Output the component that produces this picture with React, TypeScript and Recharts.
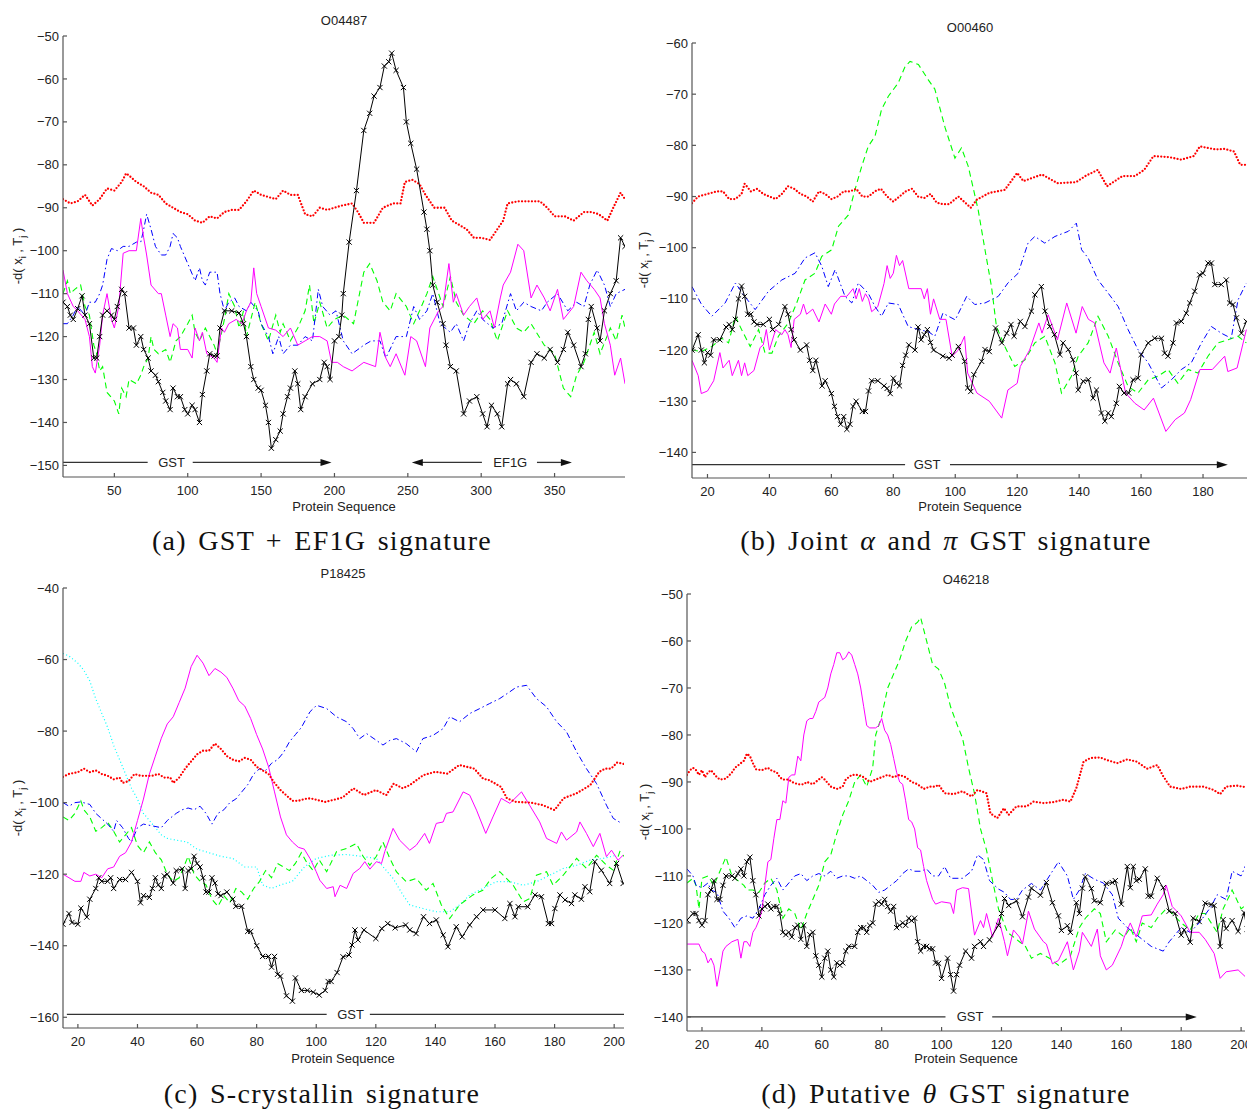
import React from "react";
import { LineChart, Line, XAxis, YAxis, ReferenceLine, ReferenceDot } from "recharts";

type Pts = [number, number][];

// ---- (a) O04487 ----
const aRed: Pts = [[15,-88],[20,-89],[25,-88.5],[30,-87],[35,-89.5],[40,-88],[45,-85.5],[50,-86],[55,-84],[58,-82],[60,-82.5],[65,-84],[70,-85],[75,-86.5],[80,-87],[85,-89],[90,-90],[95,-91],[100,-91.5],[105,-93],[110,-93.5],[115,-92],[120,-92.5],[125,-91],[130,-90.5],[135,-90.5],[140,-88.5],[145,-86],[150,-87],[155,-87.5],[160,-88],[165,-86],[170,-87],[175,-87],[180,-91.5],[185,-92],[190,-90],[195,-90.5],[200,-90],[205,-89.5],[212,-89],[216,-91],[220,-93.5],[227,-93.5],[233,-90],[240,-89],[245,-89],[248,-84],[253,-83.5],[258,-84.5],[262,-87],[268,-90],[275,-90],[280,-93],[285,-94],[290,-95],[295,-97],[300,-97],[306,-97.5],[311,-95],[315,-93],[318,-89],[325,-88.5],[333,-88.5],[340,-88.5],[345,-90],[350,-92],[357,-92],[363,-93],[370,-91],[375,-91],[380,-91.5],[386,-93],[390,-90],[395,-86.5],[398,-88]];
const aBlack: Pts = [[15,-112],[18,-113],[20,-115],[22,-116],[25,-113.5],[28,-110.5],[30,-115],[33,-117],[36,-125],[38,-125],[40,-120],[42,-115],[45,-114],[48,-115],[50,-116],[52,-113],[55,-109],[57,-110],[60,-118],[63,-118],[65,-122],[68,-120],[70,-123],[73,-125],[75,-128],[78,-129],[80,-130.5],[83,-133],[85,-135],[88,-137],[90,-132],[93,-134],[95,-134],[98,-137],[100,-138],[103,-136],[105,-137],[108,-140],[110,-133.5],[113,-128],[115,-124],[118,-124.5],[120,-124.5],[122,-118],[125,-114],[130,-114],[135,-114.5],[138,-117],[140,-120],[143,-127],[145,-130],[148,-132],[150,-132.5],[153,-136],[155,-140],[157,-146],[160,-144],[163,-142],[165,-138],[168,-134],[170,-132],[173,-128],[175,-131],[177,-137],[180,-134],[185,-131],[190,-130],[193,-126],[195,-127],[197,-130],[200,-121],[203,-120],[205,-115],[206,-110],[210,-98],[215,-86],[220,-72],[224,-68],[227,-64],[231,-62],[234,-57],[237,-56],[239,-54],[242,-58],[247,-62],[249,-70],[252,-75],[256,-81],[261,-91],[263,-95],[265,-100],[267,-108],[270,-112],[274,-117],[276,-122],[279,-127],[283,-128],[288,-138],[292,-135],[297,-134],[301,-138],[304,-141],[307,-136],[311,-138],[314,-141],[318,-131],[320,-130],[324,-131],[329,-134],[334,-126],[338,-124],[343,-125],[347,-123],[352,-126],[356,-123],[359,-119],[363,-122],[368,-127],[371,-124],[373,-116],[375,-113],[379,-118],[381,-121],[384,-114],[388,-110],[392,-107],[395,-97],[398,-99]];
const aMagenta: Pts = [[15,-104.5],[18,-110],[22,-113],[25,-114],[30,-116],[33,-120],[35,-127],[37,-128.5],[40,-122],[42,-115],[45,-110],[48,-116],[50,-118],[53,-113],[56,-100.6],[60,-100],[65,-100],[68,-92.5],[70,-97],[72,-101],[75,-108],[80,-110],[82,-110],[85,-115],[88,-120],[90,-117],[93,-118],[95,-123],[100,-123],[103,-125],[105,-118],[108,-121],[110,-119],[113,-124],[118,-125],[120,-126],[123,-118],[125,-119],[128,-117],[133,-116],[137,-117],[140,-114],[143,-112],[145,-104],[147,-110],[150,-113],[155,-118],[160,-118.5],[165,-120],[170,-118],[175,-122],[180,-121],[185,-120],[190,-120],[195,-121],[198,-126],[202,-126],[206,-127],[212,-128],[220,-126],[228,-127],[231,-119],[235,-125],[238,-127],[242,-124],[248,-129],[252,-120],[256,-121],[262,-127],[265,-118],[271,-114],[274,-113],[278,-103],[281,-112],[283,-110],[288,-115],[292,-113],[297,-111],[301,-116],[306,-114],[309,-118],[313,-111],[315,-108],[320,-105],[325,-98.5],[329,-100],[334,-111],[338,-108],[343,-111],[347,-114],[352,-109],[356,-116],[363,-113],[368,-105],[372,-107],[377,-109],[381,-111],[384,-117],[388,-122],[391,-129],[395,-125],[398,-131]];
const aBlue: Pts = [[15,-117],[18,-117],[22,-115],[25,-113],[30,-115],[33,-112],[37,-112],[40,-110],[42,-108],[45,-102],[48,-99.5],[52,-100],[56,-99],[60,-99],[65,-98],[68,-98],[70,-95],[72,-91.5],[75,-95],[78,-99],[82,-101],[85,-101],[88,-99],[90,-96],[93,-97],[95,-99],[100,-103],[105,-107],[108,-104],[110,-107],[112,-108],[115,-105],[120,-105],[122,-110],[125,-114],[128,-112],[132,-111],[135,-113],[140,-114],[143,-112],[148,-114],[150,-117],[155,-120],[158,-124],[162,-120],[165,-124],[170,-122],[175,-122],[180,-120],[185,-121],[189,-109],[192,-113],[197,-115],[201,-114],[206,-121],[212,-124],[220,-122],[225,-121],[231,-121],[235,-125],[242,-120],[249,-120],[254,-113],[258,-116],[263,-114],[267,-110],[272,-117],[279,-119],[283,-117],[288,-121],[292,-117],[297,-114],[301,-116],[308,-118],[314,-117],[320,-110],[324,-114],[329,-112],[334,-113],[341,-114],[345,-112],[352,-110],[359,-114],[365,-112],[370,-113],[374,-108],[379,-104.5],[384,-108],[388,-113],[392,-110],[398,-109]];
const aGreen: Pts = [[15,-110],[18,-107],[20,-110],[23,-109],[27,-108],[30,-113],[33,-115],[36,-122],[38,-124],[40,-128],[42,-127],[45,-133],[50,-135],[53,-138],[55,-132],[58,-134],[60,-130],[65,-131],[68,-129],[70,-127],[73,-125],[75,-120],[77,-123],[80,-124],[85,-123],[88,-126],[92,-121],[95,-120],[100,-117],[103,-115],[105,-119],[108,-121],[112,-118],[115,-120],[118,-122],[120,-124],[125,-116],[128,-110],[132,-113],[135,-118],[138,-114],[140,-120],[143,-116],[146,-112],[150,-117],[155,-121],[160,-115],[163,-119],[165,-117],[170,-121],[175,-118],[180,-114],[183,-108],[186,-117],[190,-112],[195,-118],[200,-116],[206,-115],[213,-117],[220,-105],[224,-103],[229,-107],[233,-112],[238,-114],[242,-110],[249,-113],[254,-117],[258,-114],[263,-110],[267,-106],[274,-113],[279,-106],[283,-112],[288,-115],[295,-117],[301,-114],[306,-116],[311,-121],[318,-114],[324,-118],[329,-119],[334,-117],[343,-122],[350,-124],[356,-132],[361,-134],[365,-129],[370,-126],[377,-119],[381,-124],[388,-118],[392,-121],[396,-115],[398,-118]];

// ---- (b) O00460 ----
const bRed: Pts = [[15,-91.3],[17,-90],[20,-89.5],[23,-89],[25,-89],[27,-90.5],[29,-90.5],[31,-89.5],[32,-87.5],[34,-89],[36,-88.5],[38,-89.5],[40,-90],[42,-90.5],[44,-89.5],[46,-88],[48,-88.5],[50,-89.5],[52,-90],[54,-91],[56,-89],[58,-89.5],[60,-90.5],[62,-90],[64,-89],[66,-89],[68,-88.5],[70,-90],[72,-90],[74,-89],[76,-88.5],[78,-90],[80,-91],[82,-90],[84,-89],[86,-88.5],[88,-90],[90,-90.3],[92,-89.5],[94,-91.2],[96,-91.5],[98,-91.5],[101,-90],[105,-92.2],[107,-90.6],[111,-89.3],[116,-88.7],[120,-85.4],[122,-87],[128,-85.7],[133,-87.4],[139,-87.2],[142,-86],[146,-84.8],[149,-88],[154,-86],[158,-86],[161,-84.8],[164,-82.1],[169,-82.3],[173,-82.8],[177,-82.1],[179,-80.2],[184,-80.8],[187,-80.7],[190,-81.2],[192,-83.8],[194,-83.8]];
const bBlack: Pts = [[15,-120],[17,-117],[18,-120],[19,-122.5],[20,-120.5],[21,-121],[22,-118],[24,-118],[26,-115.5],[27,-115],[28,-116],[29,-114],[30,-110],[31,-107.5],[32,-109.5],[33,-113],[34,-113],[35,-114.5],[36,-115],[38,-115],[40,-114],[41,-116],[43,-115],[45,-111.5],[46,-113],[47,-116],[48,-118],[50,-120],[52,-119],[53,-122],[54,-124],[55,-122],[57,-127],[58,-126],[60,-128.5],[61,-131],[62,-133],[63,-134.5],[64,-133],[65,-135.5],[66,-134.5],[67,-131],[68,-130],[70,-132],[71,-132],[72,-128],[73,-126],[75,-126],[77,-127],[78,-127.5],[79,-128.5],[80,-125.5],[81,-126.5],[82,-127],[83,-123],[84,-121],[85,-119],[87,-120],[88,-115.5],[89,-118],[90,-117],[91,-116],[92,-118.5],[93,-120],[96,-121.2],[98,-121.6],[99,-121],[101,-119.3],[103,-122.2],[104,-127.4],[105,-128.1],[106,-124.8],[108.5,-122.2],[109.6,-119.9],[111,-120.3],[113,-115.7],[115,-118.6],[116.6,-116.7],[118,-115],[119,-117.3],[121,-114.4],[122.5,-115.4],[124.6,-112.4],[125.7,-109.2],[127.8,-107.6],[129,-112.4],[130.5,-115.4],[132,-117],[133.8,-120.9],[134.8,-118.6],[136.5,-119.9],[138,-121.9],[139,-124.5],[139.7,-127.8],[141.3,-126.1],[143,-125.8],[144.5,-129.4],[145.6,-127.8],[147.2,-132.3],[148.3,-133.9],[149.4,-132.3],[150.4,-133],[152,-130.4],[153,-127.1],[154.5,-128.4],[156,-128.4],[157.4,-125.8],[159,-125.5],[160,-120.9],[162.3,-118.6],[164.4,-117.7],[166.6,-117.7],[167.6,-120.6],[168.7,-121.2],[170.3,-118.6],[171.4,-114.7],[173,-114.4],[174.6,-112.8],[175.7,-110.8],[177.3,-108.5],[178.9,-105.3],[180,-105],[181.6,-103],[182.7,-103],[183.8,-107.2],[185.9,-107.2],[187.5,-106.3],[188.6,-110.8],[189.7,-111.1],[190.8,-113.7],[192.4,-116.7],[194,-114.4]];
const bMagenta: Pts = [[15,-122],[17,-125],[18,-128.5],[20,-128],[22,-126],[24,-120.5],[25,-123.5],[27,-122],[28,-125],[30,-122],[31,-125],[32,-122.5],[33,-125],[35,-124],[37,-119.5],[38,-119],[39,-116],[40,-120],[42,-116],[44,-117],[45,-116],[46,-117],[47,-119.5],[48,-114],[50,-113],[51,-111],[52,-113],[54,-112],[56,-114.5],[58,-111],[60,-113],[61,-111],[63,-109.5],[65,-109.5],[67,-108],[68,-110],[69,-108],[70,-110.5],[71,-109],[72,-110],[73,-112.5],[75,-111.5],[77,-107],[78,-103.5],[79,-106],[80,-105],[81,-101.5],[82,-103.5],[83,-102.5],[85,-108],[87,-108],[89,-108],[90,-110],[91,-108],[92,-113],[93,-110],[95,-114],[97,-114],[99,-121.2],[101,-120],[103,-117.3],[104,-124.5],[107,-128.4],[111,-130],[115,-133.3],[117,-127.8],[120,-126.5],[121,-123.2],[124,-120],[127,-114.7],[128,-116.7],[130,-113.1],[133,-118],[136,-110.8],[139,-116.7],[141,-111.5],[143,-114],[145,-114.7],[148,-122.5],[150,-124.5],[152,-119.6],[155,-128.4],[158,-130.4],[161,-131.7],[164,-129.4],[168,-135.9],[171,-133.6],[174,-132.3],[176,-129.7],[179,-123.8],[183,-123.8],[187,-121.2],[188,-124.2],[191,-123.5],[194,-116]];
const bBlue: Pts = [[15,-107.6],[18,-111],[21.4,-113.4],[25.7,-110.8],[29,-106.9],[32,-109.5],[35.4,-112.1],[39.7,-108.5],[44,-106.3],[48.3,-105],[51.5,-102],[54.7,-101],[56.9,-103.6],[59,-107.6],[61.2,-104.3],[64.4,-109.5],[66.6,-110.8],[68.7,-106.9],[71.9,-108.9],[74.1,-111.5],[76.2,-113.4],[78.4,-110.8],[81.6,-111.1],[84.8,-115.4],[88.1,-116],[91.3,-116.4],[93.4,-117.3],[96,-112.8],[100,-114.1],[103.7,-109.5],[106.3,-111.1],[109.6,-110.8],[113.9,-109.5],[117,-106.9],[120.3,-105],[123.5,-99.1],[125.7,-97.8],[128.9,-99.1],[132.2,-97.8],[136.5,-96.8],[139.1,-95.2],[140.8,-100.4],[142.9,-102],[146.1,-106.3],[149.4,-108.9],[152.6,-111.5],[155.8,-116],[159,-119.9],[162.3,-122.5],[166.6,-127.4],[169.8,-125.8],[173,-123.8],[176.2,-122.5],[179.5,-118.6],[182.7,-115.4],[185.9,-116.7],[189.1,-117.7],[191.3,-110.2],[194,-106.9]];
const bGreen: Pts = [[15,-120],[18,-120.3],[21.4,-119.3],[24.6,-117.7],[26.8,-118.6],[29,-113.4],[31,-116],[33.8,-119.3],[36.5,-116],[38.6,-120.6],[40.8,-120.6],[42.9,-117.3],[46.1,-114.7],[48.8,-110.8],[51.5,-106.3],[54.7,-105],[56.9,-101.7],[60.1,-100.4],[62.3,-95.8],[65.5,-93.6],[67.6,-88.7],[69.8,-84.1],[71.9,-80.2],[74.1,-78.2],[76.2,-73],[78.4,-70.4],[81.6,-67.8],[83.8,-64.6],[85.4,-63.6],[88.1,-64.2],[91.3,-67.2],[93.4,-69],[96.7,-76.5],[99.9,-82.5],[102,-80.5],[104.2,-84.1],[107.4,-92.6],[109.6,-100.4],[111.7,-107.6],[113.3,-115.4],[116,-119.3],[119.2,-123.2],[122.5,-121.9],[125.7,-118.6],[128.9,-117.3],[132.2,-122.5],[134.3,-128.4],[137.5,-125.1],[139.7,-121.2],[142.9,-118.6],[146.1,-113.4],[149.4,-117.3],[152.6,-122.5],[155.8,-127.1],[159,-128.4],[162.3,-125.8],[165.5,-125.1],[168.7,-123.8],[171.9,-126.5],[175.2,-123.8],[178.4,-124.5],[181.6,-121.2],[184.8,-118.6],[188.1,-118],[191.3,-117.3],[194,-118.6]];

// ---- (c) P18425 ----
const cRed: Pts = [[15,-92.8],[17,-92],[20,-91.5],[22,-90.5],[24,-91.5],[26,-91],[28,-92],[30,-92.5],[32,-93.5],[34,-93],[35,-94.5],[37,-94],[39,-92],[41,-92.5],[45,-92.5],[47,-92],[49,-93],[51,-93],[52,-94.5],[54,-93],[56,-90.5],[58,-88.5],[60,-86.5],[62,-85.5],[64,-85.5],[66,-83.5],[68,-85],[70,-87],[72,-88],[74,-88.5],[76,-87.5],[78,-88],[80,-90],[82,-91],[84,-92],[86,-94.5],[88,-96.5],[90,-98],[92,-99.5],[94,-99.5],[96,-99],[98,-98.8],[103,-99.8],[107,-99],[109,-98.5],[112.5,-96],[116,-97.9],[120,-96.5],[123.5,-97.9],[126,-94.7],[129,-96],[131.4,-95.1],[136,-92.3],[140,-91.4],[144,-91.9],[148,-89.5],[153,-90.5],[156,-93.3],[158,-93.7],[162,-95.6],[164,-98.8],[167,-99.8],[172,-100],[176,-100.7],[180,-102.1],[183,-98.8],[187.4,-97.4],[192,-95.1],[195,-91.4],[197,-90.5],[199,-90.5],[201,-88.8],[203.3,-89.2]];
const cBlack: Pts = [[15,-134],[17,-131],[18,-133.5],[20,-134],[21,-129.5],[23,-132],[24,-127],[26,-124],[27,-121],[28,-122],[30,-122],[31,-121],[32,-124],[34,-121.5],[36,-121.5],[38,-119.5],[40,-122],[41,-128],[42,-126],[44,-126.5],[45,-124],[46,-121],[47,-123],[48,-124],[49,-120.5],[50,-120],[52,-122.5],[53,-119],[55,-118.5],[56,-124],[57,-119],[58,-118.5],[59,-115],[60,-117],[61,-118],[62,-121],[63,-125],[64,-125],[65,-121],[66,-122.5],[67,-125.5],[68,-126],[70,-125],[72,-127],[73,-129],[75,-129],[77,-136],[78,-136],[80,-140],[82,-143],[84,-143],[85,-146],[86,-143],[87,-148],[88,-148.5],[90,-154],[92,-155.5],[93,-149],[95,-152.5],[97,-152.5],[99,-153],[101,-153.8],[103,-152.5],[104,-150],[105,-150],[107,-147.5],[109,-143.1],[111,-142.6],[112,-139.8],[113,-135.6],[114,-138.4],[116,-135.6],[120,-138],[122,-135.2],[124,-133.8],[126.5,-135],[130,-134.2],[131.4,-135.6],[133.5,-136.6],[136,-131.9],[138,-133.8],[140.3,-132.8],[142.6,-137],[144.2,-140.3],[147,-134.7],[149,-137.5],[151.5,-134.2],[153.8,-131.9],[156,-130],[160,-130],[163.3,-132.4],[165,-128.2],[166.7,-131.9],[167.8,-129.1],[171,-129.1],[173.4,-125.8],[175.6,-126.3],[177.9,-133.8],[179,-133.8],[180.1,-129.6],[181.8,-125.8],[183.5,-127.2],[185.7,-128.2],[186.8,-125.8],[189,-127],[190.2,-123.5],[191.8,-124.9],[193.5,-116.5],[195.7,-118.9],[198.5,-122.6],[200.8,-117],[203,-122.6]];
const cMagenta: Pts = [[15,-120],[17,-121],[19,-122],[21,-122],[22,-119.5],[24,-120.5],[26,-120],[28,-121],[30,-118.5],[32,-118],[34,-115],[36,-114],[38,-111],[40,-105],[42,-99],[44,-92],[46,-87],[48,-82],[50,-78],[52,-76],[54,-72],[56,-68],[58,-62],[60,-58.8],[62,-61],[64,-64.5],[66,-62.5],[68,-63.5],[70,-65],[72,-68],[74,-71.5],[76,-73],[78,-76.5],[80,-81],[82,-85],[84,-90],[86,-97],[88,-104],[90,-109],[92,-111],[94,-112.5],[96,-113],[97.9,-115.6],[100,-119.3],[101.2,-121.7],[103.5,-124],[105.7,-123.5],[106.3,-126.3],[108,-123.1],[110.2,-124],[112.4,-119.8],[114.6,-118.4],[116.3,-116.5],[118,-118.6],[120.2,-116.5],[121.9,-117],[123,-113.7],[125.8,-107.2],[128,-110.5],[131.4,-113.3],[133.6,-111.9],[136.4,-108.6],[138,-111.4],[140.3,-105.8],[142.6,-105.4],[143.7,-103],[145.9,-102.6],[149.3,-97],[151.5,-97.9],[153.8,-102.1],[156.9,-108.6],[159.3,-104],[162.1,-98.8],[165,-100.2],[168.9,-97],[171.6,-100.7],[175,-105.4],[177.3,-110],[180.7,-111.4],[182.3,-108.2],[184,-110.5],[187.4,-108.2],[188.5,-105.4],[190.7,-108.6],[193,-112.3],[195.2,-108.6],[197.4,-115.1],[199.1,-113.3],[201.3,-116.1],[203,-114.7]];
const cBlue: Pts = [[15,-100],[17,-101],[19,-100],[21,-99.8],[24,-100.5],[26,-103],[28,-104.5],[30,-106],[32,-108],[33,-105],[35,-107],[37,-110],[38,-111],[40,-107],[42,-106],[45,-106.5],[48,-107],[50,-105],[53,-103],[55,-102],[57,-101.5],[59,-102],[61,-101],[63,-103],[65,-106],[67,-103],[69,-102],[71,-100],[73,-99],[75,-97],[77,-95],[79,-92],[81,-90.5],[83,-91],[85,-89],[87,-88],[89,-86],[91,-83],[93,-81],[95,-79],[97.9,-74.6],[100.1,-72.8],[103.5,-73.7],[106.8,-76],[110.2,-77.4],[112.4,-79.3],[114.6,-82.1],[116.9,-80.7],[120.2,-82.6],[122.4,-83.9],[124.7,-82.6],[126.9,-82.1],[130.2,-83.5],[133.6,-85.8],[135.8,-82.1],[139.2,-81.2],[142.6,-79.3],[144.8,-76],[148.1,-77.4],[151.5,-75.1],[154.9,-73.7],[158.2,-72.3],[161.6,-70.9],[165,-69],[167.2,-67.7],[170.6,-67.2],[173.9,-70.9],[177.3,-73.2],[180.7,-77.4],[184,-80.2],[187.4,-85.8],[190.7,-90.5],[194.1,-94.7],[197.4,-100.7],[199.7,-104.4],[202.5,-105.8]];
const cGreen: Pts = [[15,-104],[17,-105],[19,-103],[21,-99.5],[22,-102],[24,-104],[26,-108],[28,-107],[30,-105.5],[32,-108],[34,-111],[36,-109],[38,-107],[40,-112],[42,-114],[44,-111],[46,-114],[48,-116],[50,-120],[52,-122],[54,-121],[56,-117],[57,-115],[59,-120],[61,-122],[63,-123],[65,-127],[67,-129],[69,-126],[71,-128],[73,-124],[75,-125],[77,-127],[79,-124],[81,-122],[83,-119],[85,-121],[87,-117],[89,-118],[91,-119],[93,-117],[95,-114],[97,-117],[99,-119],[101,-116],[103.5,-119.3],[106.8,-113.7],[110.2,-112.8],[113.5,-111.4],[115.7,-115],[118,-117.5],[120.2,-115],[122.4,-111],[124.7,-115.6],[126.9,-119.3],[130.2,-122.1],[133.6,-121.2],[136.9,-124.5],[139.2,-122.6],[142,-128.6],[144.8,-132.4],[148.1,-128.6],[152.6,-125.8],[155.9,-124.5],[158.7,-121.2],[161.6,-119.3],[166.1,-123.1],[169.5,-127.7],[171.7,-126.8],[173.9,-120.3],[177.3,-119.3],[179.5,-123.1],[182.9,-120.3],[187.4,-115.6],[190.7,-118.4],[194.1,-114.7],[197.4,-117.5],[199.7,-118.9],[201.9,-113.7],[203.3,-115]];
const cCyan: Pts = [[15,-58.3],[17,-59],[20,-61],[22,-63],[24,-66],[26,-71],[28,-75],[30,-79],[32,-84],[34,-88],[36,-92],[38,-96],[40,-99],[42,-103],[44,-105],[46,-107],[48,-109],[50,-110],[53,-110.5],[56.6,-111],[60,-113],[64,-114],[68,-115],[72,-115.6],[76,-118],[80,-118],[82,-123],[85,-124],[88,-123],[92,-122],[96,-118],[100,-115.6],[105,-114.7],[110,-114.5],[115,-115],[120.2,-115.6],[122.4,-117.9],[125.8,-121.2],[129.1,-125.8],[131.4,-128.6],[135.8,-129.6],[140.3,-130.5],[144.8,-130.5],[148.1,-128.6],[151.5,-125.8],[155.9,-124],[160.4,-122.1],[165,-122.1],[169.5,-123.1],[173.9,-122.1],[178.4,-120.3],[182.9,-118.4],[187.4,-117.5],[191.8,-116.1],[196.3,-115.6],[200.8,-114.7]];

// ---- (d) O46218 ----
const dRed: Pts = [[15,-88.5],[16,-87.5],[17,-87],[18,-87.5],[19,-88.5],[20,-87.5],[21,-89],[22,-88],[23,-87.5],[25,-89],[26,-89.5],[28,-89.3],[30,-88],[31,-87],[32,-86.5],[34,-85.5],[35,-84],[36,-84.5],[37,-86],[38,-87.3],[40,-87.5],[42,-87],[43,-87.5],[45,-88],[46,-89],[47,-89.5],[49,-89.5],[50,-90],[52,-90.5],[54,-90.5],[55,-90],[57,-90.5],[59,-89.5],[60,-89],[61,-89.5],[63,-91],[65,-91.5],[67,-91],[68,-89.5],[70,-88.5],[72,-88.5],[74,-89],[76,-90],[78,-89.5],[80,-89],[82,-88.5],[84,-89],[86,-88.5],[88,-89],[90,-90],[92,-90.5],[94,-91.5],[96,-91],[98,-91],[99,-90.6],[101,-92.4],[104,-92.6],[107,-92],[110,-93.1],[112,-91.7],[115,-92.4],[116.3,-96.7],[118.6,-97.7],[120.8,-95.6],[122.4,-97],[125,-95.2],[128.4,-95.2],[130.7,-94.2],[134,-94.5],[137.3,-94.3],[140.7,-93.8],[143,-94.2],[145,-91.3],[147.4,-85.7],[149.7,-84.9],[153,-84.8],[155,-85.3],[158.6,-86],[162,-85.2],[165.2,-85.7],[168.6,-87.2],[172,-86.4],[174,-88.8],[176.3,-91],[180,-91.5],[183,-91],[187.4,-91],[190.8,-91.7],[193,-92.6],[195,-91],[198.6,-90.8],[202.4,-91.2]];
const dBlack: Pts = [[15,-119.4],[17,-118],[18,-118],[19,-119.5],[20,-120.5],[21,-119.5],[22,-114],[23,-113],[24,-111],[25,-115],[26,-115],[27,-112],[28,-110],[30,-110],[31,-110.5],[32,-109.5],[33,-108.5],[34,-110],[35,-107],[36,-106],[37,-111],[38,-114],[39,-118.5],[40,-117],[41,-116.5],[42,-116],[43,-117],[44,-116.5],[45,-116.5],[46,-118],[47,-122],[48,-122.5],[49,-122],[50,-123],[51,-121],[52,-120.5],[53,-123.5],[54,-120.5],[55,-125],[56,-122.5],[57,-122],[58,-127],[59,-129],[60,-131.5],[61,-127.5],[62,-126],[63,-130],[64,-131.5],[65,-128.5],[66,-129],[67,-128.5],[68,-126],[69,-125],[71,-125],[72,-122],[73,-121],[74,-121],[75,-122],[76,-120.5],[77,-120],[78,-116],[79,-115.5],[80,-116],[81,-115],[82,-116.5],[83,-117.5],[84,-116.5],[85,-121],[86,-120.5],[87,-120],[88,-120.5],[89,-119],[90,-119.5],[91,-119],[92,-124],[93,-126],[94,-125],[95,-125],[96,-125.5],[97,-125.5],[98,-128.5],[99,-128.6],[100,-131.8],[102,-127.5],[103,-131],[104,-134.5],[105,-131],[106,-129],[108,-126],[110,-127.5],[111,-125],[113,-124],[114,-125],[116,-123.6],[119,-120.5],[120,-118],[121,-114.8],[122.4,-116.3],[125,-115.3],[127,-118.7],[129,-114.5],[130,-112.6],[133,-114.1],[135,-111.4],[137,-115.7],[139,-118.5],[140,-121.6],[142,-120.6],[143,-122],[145,-115.7],[146,-118],[147,-112.6],[148,-110.2],[150,-112.7],[151,-115.3],[153,-115.7],[155,-111.6],[157,-111.4],[158,-111],[160,-116],[162,-108],[163,-112.5],[164,-108],[165,-111],[166,-110.7],[168,-108.5],[169,-114.3],[170,-114.3],[172,-110.5],[174,-112.5],[176,-117.5],[178,-118],[180,-122.6],[181,-121.5],[183,-124.1],[184,-119],[186,-119.7],[188,-115.8],[190,-116.1],[191,-116.3],[193,-125],[194,-119.3],[195,-121.2],[197,-119.5],[199,-121.8],[201,-117.8],[202,-121.3]];
const dMagenta: Pts = [[15,-124.5],[17,-124.5],[19,-124.5],[20,-126],[21,-126.5],[22,-128.5],[23,-127.5],[24,-129],[25,-133.5],[26,-130],[27,-126],[28,-125],[30,-124],[32,-123.5],[33,-127.5],[34,-124],[35,-124],[36,-125],[37,-122],[38,-121],[39,-119.5],[40,-117.5],[41,-112],[42,-107],[43,-106.5],[44,-102],[45,-98],[46,-98],[47,-94],[48,-94.5],[49,-89],[50,-88.5],[51,-88.5],[52,-84.5],[53,-85.5],[54,-80],[55,-77],[56,-76.5],[57,-76.5],[58,-75],[59,-73],[60,-72.5],[61,-72],[62,-70],[63,-67],[64,-65],[65,-62.5],[66,-62.5],[67,-64],[68,-63.5],[69,-62.3],[70,-63],[71,-65],[72,-67],[73,-70],[74,-74],[75,-78],[76,-78.5],[78,-78.5],[79,-78],[80,-76.5],[81,-79],[82,-80],[83,-82],[84,-85],[85,-88],[86,-90],[87,-90.5],[88,-94],[89,-98],[90,-98.5],[91,-100],[92,-104],[93,-104.5],[94,-108],[95,-111],[96,-113],[97,-115],[98,-116],[100,-115.5],[103,-115.8],[104,-118],[105,-113],[107,-112.5],[109,-112.7],[111,-122.6],[113,-119.5],[114,-121],[115,-118],[117,-123],[119,-119],[121,-124],[122,-127],[124,-121.5],[126,-123],[127,-124.5],[129,-117.5],[131,-121.3],[134,-124],[135,-124.5],[137,-128.7],[139,-128],[142,-124],[144,-130],[146,-126],[147,-122],[150,-125],[152,-121.3],[153,-127],[155,-130],[157,-129],[160,-125],[161,-123],[163,-120],[165,-123],[167,-118.5],[170,-118.3],[172,-116],[174,-114],[175,-112],[177,-116.5],[180,-118.5],[183,-122],[186,-122],[188,-123.5],[191,-126.5],[193,-131.8],[195,-130.4],[199,-130],[202,-131.8]];
const dBlue: Pts = [[15,-108.5],[17,-110],[18,-112],[20,-112.5],[22,-111.5],[23,-113],[25,-113.5],[27,-117.5],[29,-119],[31,-121],[33,-119],[35,-118.5],[37,-119],[39,-117],[41,-114],[43,-112],[45,-110.5],[47,-113],[49,-111.5],[51,-110],[53,-109.5],[55,-111],[57,-110],[59,-109.5],[61,-110],[63,-109],[65,-110.5],[67,-110],[69,-110],[71,-110.5],[73,-110],[75,-111],[77,-112],[79,-113.5],[81,-113],[83,-112],[85,-111],[87,-109.5],[89,-108.5],[91,-109],[93,-109],[95,-108.5],[97,-110],[99,-110],[101,-108],[103,-110.5],[107,-110.5],[110,-109],[112,-105.5],[114,-106.5],[116,-111],[119,-112.8],[121,-113.5],[123,-115],[125,-115],[127,-113],[130,-111.6],[133,-113],[135,-111],[137,-109],[139,-107],[142,-110],[144,-115],[146,-113],[148,-109.5],[151,-110.7],[154,-111.5],[157,-114],[159,-119],[162,-121],[165,-122.5],[168,-124],[170,-125],[174,-126],[176,-124],[180,-121],[183,-122],[186,-120],[190,-116.5],[192,-114],[195,-115],[197,-109],[200,-110],[202,-107]];
const dGreen: Pts = [[15,-111.5],[17,-110.5],[18,-112],[19,-117],[20,-110.5],[22,-110],[24,-112],[26,-109],[28,-106],[30,-110],[32,-111],[34,-112],[35,-113],[37,-113],[39,-113.5],[41,-111.5],[43,-110.5],[45,-113],[47,-119],[49,-117],[51,-118],[53,-121.5],[55,-118],[57,-115],[59,-112],[61,-107],[63,-105.5],[65,-101],[67,-97],[69,-94],[71,-90],[73,-88.5],[75,-91],[77,-87],[78,-80],[80,-76],[82,-70],[84,-67],[86,-64],[88,-60],[90,-57],[92,-56],[93,-55],[95,-60],[97,-65],[99,-66],[101,-69],[103,-74],[105,-77.5],[107,-80.7],[109,-87],[111,-92.5],[113,-100],[115,-104.5],[117,-111],[119,-117],[122,-122],[124,-123],[126,-124],[128,-125],[130,-127.5],[133,-126.5],[136,-127.5],[139,-129],[143,-127],[146,-121],[148,-119],[151,-117],[153,-118],[155,-124],[158,-121.5],[161,-123],[163,-121],[165,-124],[167,-120],[170,-121],[172,-119],[175,-117],[177,-118],[180,-120],[183,-121.5],[186,-118],[188,-118],[192,-122],[194,-117],[197,-113],[200,-117],[202,-116]];

// annotation bars: [from, to, arrowhead at "to"]
type Seg = [number, number, boolean];
type Note = { y: number; segs: Seg[]; labels: [string, number][] };
const aNote: Note = { y: -149.3, segs: [[15, 72.7, false], [103.4, 198, true], [300.5, 252.7, true], [338, 361.8, true]], labels: [["GST", 89], ["EF1G", 319.8]] };
const bNote: Note = { y: -142.4, segs: [[15, 83.8, false], [98.3, 188, true]], labels: [["GST", 90.9]] };
const cNote: Note = { y: -159.2, segs: [[16.3, 103.5, false], [118, 203.3, false]], labels: [["GST", 111.5]] };
const dNote: Note = { y: -140, segs: [[15, 101.3, false], [116.9, 185.2, true]], labels: [["GST", 109.5]] };

const aXTicks = [50, 100, 150, 200, 250, 300, 350];
const aYTicks = [-150, -140, -130, -120, -110, -100, -90, -80, -70, -60, -50];
const bXTicks = [20, 40, 60, 80, 100, 120, 140, 160, 180];
const bYTicks = [-140, -130, -120, -110, -100, -90, -80, -70, -60];
const cXTicks = [20, 40, 60, 80, 100, 120, 140, 160, 180, 200];
const cYTicks = [-160, -140, -120, -100, -80, -60, -40];
const dXTicks = [20, 40, 60, 80, 100, 120, 140, 160, 180, 200];
const dYTicks = [-140, -130, -120, -110, -100, -90, -80, -70, -60, -50];

const SANS = '"Liberation Sans", Arial, Helvetica, sans-serif';
const SERIF = '"Liberation Serif", "Times New Roman", serif';

const STYLE: Record<string, any> = {
  green: { stroke: "#00ff00", strokeWidth: 1.1, strokeDasharray: "6 4" },
  blue: { stroke: "#0000ff", strokeWidth: 1, strokeDasharray: "6 3 1.5 3" },
  cyan: { stroke: "#00ffff", strokeWidth: 1.2, strokeDasharray: "1 2.5" },
  magenta: { stroke: "#ff00ff", strokeWidth: 1 },
  red: { stroke: "#ff0000", strokeWidth: 2.3, strokeDasharray: "0 3.3", strokeLinecap: "round" },
  black: { stroke: "#000000", strokeWidth: 1 },
};

const rows = (pts: Pts) => pts.map(([x, y]) => ({ x, y }));
const minus = (v: number) => String(v).replace("-", "\u2212");

const xMark = (p: any) => {
  const { cx, cy, index } = p;
  if (cx == null || cy == null) return <g key={index} />;
  const s = 2.6;
  return (
    <path key={index} d={`M${cx - s},${cy - s}L${cx + s},${cy + s}M${cx - s},${cy + s}L${cx + s},${cy - s}`} stroke="#000" strokeWidth={1} fill="none" />
  );
};

const bar = (head: boolean) => (p: any) => {
  const { x1, y1, x2, y2 } = p;
  const dir = x2 >= x1 ? 1 : -1;
  return (
    <g>
      <line x1={x1} y1={y1} x2={head ? x2 - dir * 6 : x2} y2={y2} stroke="#333" strokeWidth={1.3} />
      {head && <polygon points={`${x2},${y2} ${x2 - dir * 11},${y2 - 3.5} ${x2 - dir * 11},${y2 + 3.5}`} fill="#111" />}
    </g>
  );
};

type Panel = {
  left: number; top: number; width: number; height: number;
  margin: { top: number; right: number; left: number; bottom: number };
  yWidth: number; xHeight: number;
  xDomain: [number, number]; yDomain: [number, number];
  xTicks: number[]; yTicks: number[];
  series: [string, Pts][];
  note: Note;
};

const panels: Panel[] = [
  { left: 0, top: 0, width: 640, height: 520, margin: { top: 36, right: 15, left: 0, bottom: 0 }, yWidth: 63, xHeight: 43,
    xDomain: [15, 398], yDomain: [-152.7, -50], xTicks: aXTicks, yTicks: aYTicks,
    series: [["green", aGreen], ["blue", aBlue], ["magenta", aMagenta], ["red", aRed], ["black", aBlack]], note: aNote },
  { left: 630, top: 0, width: 617, height: 520, margin: { top: 43, right: 0, left: 0, bottom: 0 }, yWidth: 62, xHeight: 42,
    xDomain: [15, 194.2], yDomain: [-145, -60], xTicks: bXTicks, yTicks: bYTicks,
    series: [["green", bGreen], ["blue", bBlue], ["magenta", bMagenta], ["red", bRed], ["black", bBlack]], note: bNote },
  { left: 0, top: 550, width: 640, height: 520, margin: { top: 38, right: 16, left: 0, bottom: 0 }, yWidth: 63, xHeight: 42,
    xDomain: [15, 203.3], yDomain: [-163, -40], xTicks: cXTicks, yTicks: cYTicks,
    series: [["cyan", cCyan], ["green", cGreen], ["blue", cBlue], ["magenta", cMagenta], ["red", cRed], ["black", cBlack]], note: cNote },
  { left: 630, top: 550, width: 617, height: 520, margin: { top: 44, right: 2, left: 0, bottom: 0 }, yWidth: 57, xHeight: 39,
    xDomain: [15, 201.3], yDomain: [-143, -50], xTicks: dXTicks, yTicks: dYTicks,
    series: [["green", dGreen], ["blue", dBlue], ["magenta", dMagenta], ["red", dRed], ["black", dBlack]], note: dNote },
];

const titles: [string, number, number][] = [["O04487", 344, 20], ["O00460", 970, 27], ["P18425", 343, 573], ["O46218", 966, 579]];
const xLabels: [number, number][] = [[344, 506], [970, 506], [343, 1058], [966, 1058]];
const yLabels: [number, number][] = [[19, 256], [645, 260], [19, 808], [646, 812]];

const tickStyle = { fill: "#222", fontSize: 13, fontFamily: SANS };
const axisStroke = { stroke: "#555", strokeWidth: 1.2 };

const ChartPanel: React.FC<{ p: Panel }> = ({ p }) => (
  <div style={{ position: "absolute", left: p.left, top: p.top }}>
    <LineChart width={p.width} height={p.height} margin={p.margin}>
      <XAxis dataKey="x" type="number" domain={p.xDomain} ticks={p.xTicks} interval={0} allowDataOverflow
        height={p.xHeight} tickSize={-4} tickMargin={13} tick={tickStyle} axisLine={axisStroke} tickLine={axisStroke} />
      <YAxis type="number" domain={p.yDomain} ticks={p.yTicks} interval={0} allowDataOverflow
        width={p.yWidth} tickSize={-4} tickMargin={8} tick={tickStyle} axisLine={axisStroke} tickLine={axisStroke} tickFormatter={minus} />
      {p.series.map(([k, pts]) => (
        <Line key={k} data={rows(pts)} dataKey="y" type="linear" isAnimationActive={false}
          {...STYLE[k]} dot={k === "black" ? xMark : false} activeDot={false} />
      ))}
      {p.note.segs.map(([a, b, head], i) => (
        <ReferenceLine key={`s${i}`} segment={[{ x: a, y: p.note.y }, { x: b, y: p.note.y }]} ifOverflow="visible" shape={bar(head)} />
      ))}
      {p.note.labels.map(([t, x]) => (
        <ReferenceDot key={t} x={x} y={p.note.y} r={0} ifOverflow="visible"
          shape={(d: any) => (
            <text x={d.cx} y={d.cy} textAnchor="middle" dominantBaseline="central" fontFamily={SANS} fontSize={13} fill="#222">{t}</text>
          )} />
      ))}
    </LineChart>
  </div>
);

const captions: [React.ReactNode, number, number][] = [
  [<>(a) GST + EF1G signature</>, 322, 541],
  [<>(b) Joint <i>α</i> and <i>π</i> GST signature</>, 946, 541],
  [<>(c) S-crystallin signature</>, 322, 1094],
  [<>(d) Putative <i>θ</i> GST signature</>, 946, 1094],
];

const abs = (x: number, y: number, extra: React.CSSProperties = {}): React.CSSProperties => ({
  position: "absolute", left: x, top: y, transform: "translate(-50%, -50%)", whiteSpace: "nowrap", ...extra,
});

export default function App() {
  return (
    <div style={{ position: "absolute", left: 0, top: 0, width: 1247, height: 1110, background: "#fff", overflow: "hidden" }}>
      {panels.map((p, i) => <ChartPanel key={i} p={p} />)}
      {titles.map(([t, x, y]) => (
        <div key={t} style={abs(x, y, { fontFamily: SANS, fontSize: 13, color: "#222" })}>{t}</div>
      ))}
      {xLabels.map(([x, y], i) => (
        <div key={i} style={abs(x, y, { fontFamily: SANS, fontSize: 13, color: "#222" })}>Protein Sequence</div>
      ))}
      {yLabels.map(([x, y], i) => (
        <div key={i} style={abs(x, y, { fontFamily: SANS, fontSize: 13, color: "#222", transform: "translate(-50%, -50%) rotate(-90deg)" })}>
          -d( x<sub style={{ fontSize: 9 }}>i</sub> , T<sub style={{ fontSize: 9 }}>j</sub> )
        </div>
      ))}
      {captions.map(([c, x, y], i) => (
        <div key={i} style={abs(x, y, { fontFamily: SERIF, fontSize: 28, letterSpacing: 1.3, wordSpacing: 3, color: "#111" })}>{c}</div>
      ))}
    </div>
  );
}
